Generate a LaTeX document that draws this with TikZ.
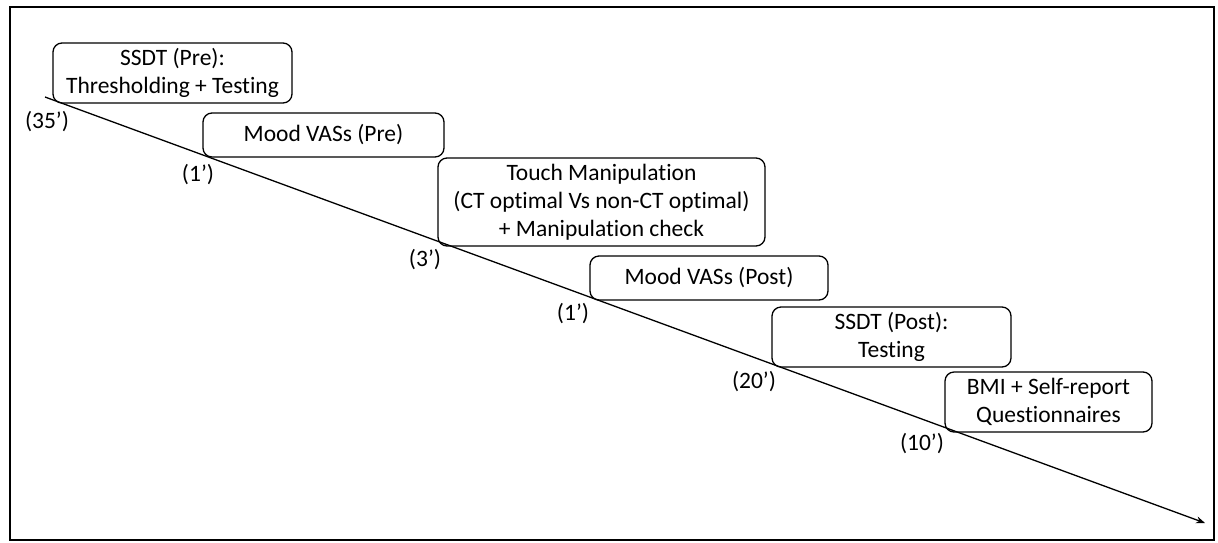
\documentclass[tikz,border=0pt]{standalone}
\usepackage{fontspec}
\setmainfont[Ligatures=NoCommon]{Carlito}
\usetikzlibrary{arrows.meta}

\begin{document}
\begin{tikzpicture}[x=1pt,y=-1pt]
	          \useasboundingbox (0,0) rectangle (1218,542);
	          \draw[line width=2.5pt] (10,7) rectangle (1214,540);
	          \begin{scope}[every node/.style={rectangle,rounded corners=9pt,draw,line width=1.3pt,align=center,inner sep=0pt,font=\fontsize{23.5}{28}\selectfont}]
	            \node[minimum width=239pt,minimum height=60pt] (pre) at (172.5,73) {SSDT (Pre):\\Thresholding + Testing};
	            \node[minimum width=241pt,minimum height=44pt] (vasa) at (323.5,135) {Mood VASs (Pre)};
	            \node[minimum width=327pt,minimum height=88pt] (touch) at (601.5,202) {Touch Manipulation\\(CT optimal Vs non-CT optimal)\\+ Manipulation check};
	            \node[minimum width=238pt,minimum height=44pt] (vasb) at (709,278) {Mood VASs (Post)};
	            \node[minimum width=239pt,minimum height=60pt] (post) at (891.5,337) {SSDT (Post):\\Testing};
	            \node[minimum width=207pt,minimum height=60pt] (bmi) at (1048.5,402) {BMI + Self-report\\Questionnaires};
	          \end{scope}
	          \begin{scope}[every node/.style={inner sep=0pt,font=\fontsize{23.5}{28}\selectfont}]
	            \node (ta) at (47,122) {(35’)};
	            \node (tb) at (198,175) {(1’)};
	            \node (tc) at (425,260) {(3’)};
	            \node (td) at (573,314) {(1’)};
	            \node (te) at (754,382) {(20’)};
	            \node (tf) at (922,444) {(10’)};
	          \end{scope}
	          \coordinate (start) at (45,97);
	          \coordinate (end) at (1205,523);
	          \begin{scope}[every edge/.style={draw=black,line width=1.3pt}]
	            \path (start) edge[-{Stealth[length=9pt,width=7pt]}] (end);
	          \end{scope}
	        \end{tikzpicture}
\end{document}
